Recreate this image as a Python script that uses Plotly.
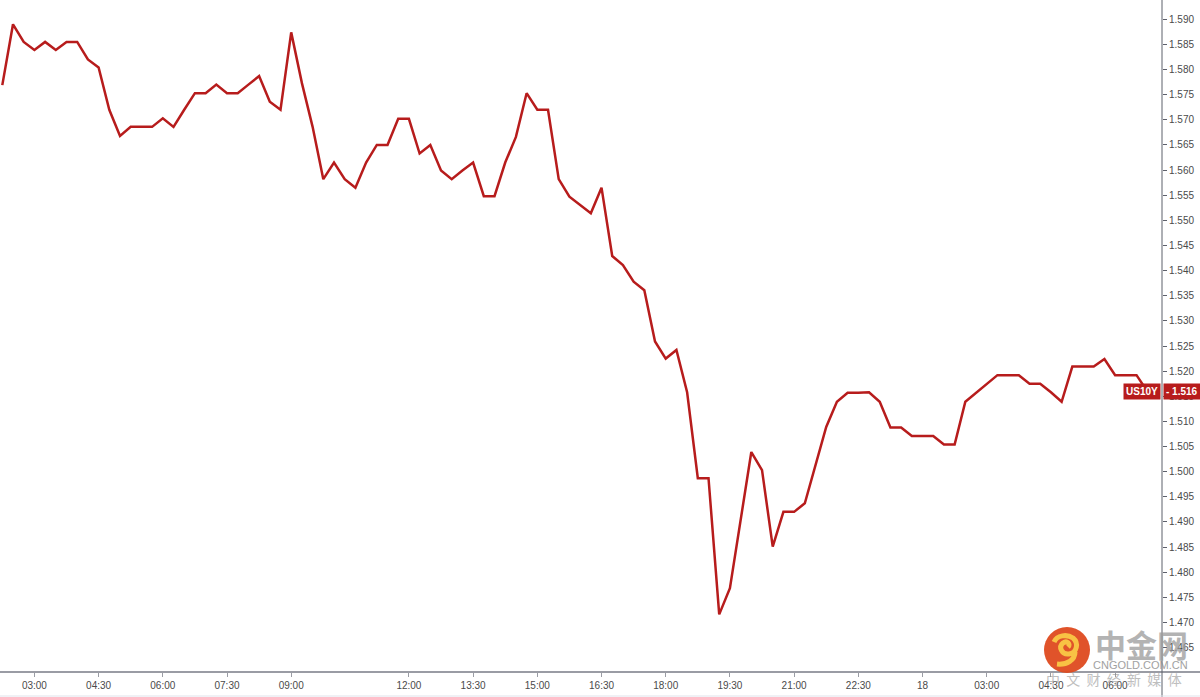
import pandas as pd
import plotly.graph_objects as go

# ---- data ----
series_name = "US10Y"
values = [1.5769, 1.5890, 1.5855, 1.5839, 1.5855, 1.5839, 1.5855, 1.5855, 1.5820, 1.5804,
          1.5720, 1.5668, 1.5686, 1.5686, 1.5686, 1.5703, 1.5686, 1.5720, 1.5753, 1.5753,
          1.5770, 1.5753, 1.5753, 1.5770, 1.5787, 1.5736, 1.5720, 1.5874, 1.5773, 1.5686,
          1.5582, 1.5615, 1.5582, 1.5565, 1.5615, 1.5650, 1.5650, 1.5702, 1.5702, 1.5633,
          1.5650, 1.5599, 1.5582, 1.5599, 1.5615, 1.5548, 1.5548, 1.5615, 1.5666, 1.5753,
          1.5720, 1.5720, 1.5582, 1.5547, 1.5531, 1.5514, 1.5565, 1.5429, 1.5411, 1.5378,
          1.5361, 1.5259, 1.5225, 1.5242, 1.5158, 1.4987, 1.4987, 1.4716, 1.4768, 1.4904,
          1.5039, 1.5003, 1.4851, 1.4920, 1.4920, 1.4937, 1.5013, 1.5089, 1.5139, 1.5157,
          1.5157, 1.5158, 1.5139, 1.5088, 1.5088, 1.5071, 1.5071, 1.5071, 1.5054, 1.5054,
          1.5139, 1.5157, 1.5175, 1.5192, 1.5192, 1.5192, 1.5175, 1.5175, 1.5158, 1.5139,
          1.5209, 1.5209, 1.5209, 1.5224, 1.5192, 1.5192, 1.5192, 1.5160]
last_label = "1.516"

# 15-minute bars (session gaps removed)
day1 = pd.date_range("2021-03-17 02:15", "2021-03-17 23:45", freq="15min").drop(
    pd.Timestamp("2021-03-17 10:30"))
day2 = pd.DatetimeIndex([pd.Timestamp("2021-03-18 00:00")]).append(
    pd.date_range("2021-03-18 01:45", "2021-03-18 06:45", freq="15min"))
times = [t.strftime("%m-%d %H:%M") for t in day1.append(day2)]

tick_times = ["03-17 03:00", "03-17 04:30", "03-17 06:00", "03-17 07:30", "03-17 09:00",
              "03-17 12:00", "03-17 13:30", "03-17 15:00", "03-17 16:30", "03-17 18:00",
              "03-17 19:30", "03-17 21:00", "03-17 22:30", "03-18 00:00", "03-18 03:00",
              "03-18 04:30", "03-18 06:00"]
tick_labels = ["03:00", "04:30", "06:00", "07:30", "09:00", "12:00", "13:30", "15:00",
               "16:30", "18:00", "19:30", "21:00", "22:30", "18", "03:00", "04:30", "06:00"]

y_ticks = [round(1.465 + 0.005 * i, 3) for i in range(26)]

# ---- style ----
RED = "#B71C1C"
W, H = 1200, 697
PL, PR, PT, PB = 0, 38, 0, 25
PW, PH = W - PL - PR, H - PT - PB

def px_x(x):
    return (x - PL) / PW

def px_y(y):
    return (H - PB - y) / PH

fig = go.Figure()
fig.add_trace(go.Scatter(x=times, y=values, mode="lines",
                         line=dict(color=RED, width=2.5), name=series_name,
                         hoverinfo="x+y"))

logo_cx, logo_cy = 1067, 650
shapes = [
    # bottom axis line (extends under price scale)
    dict(type="line", xref="paper", yref="paper", x0=0, x1=px_x(W), y0=0, y1=0,
         line=dict(color="#9a9ca4", width=2), layer="above"),
    # right price-scale line (extends through time scale)
    dict(type="line", xref="paper", yref="paper", x0=1, x1=1, y0=px_y(H), y1=1,
         line=dict(color="#5d606b", width=1), layer="above"),
    # bottom border
    dict(type="line", xref="paper", yref="paper", x0=0, x1=px_x(W), y0=px_y(H - 1), y1=px_y(H - 1),
         line=dict(color="#e0e3eb", width=1), layer="above"),
    # watermark logo circle
    dict(type="circle", xref="paper", yref="paper", x0=px_x(logo_cx - 23), x1=px_x(logo_cx + 23),
         y0=px_y(logo_cy + 23), y1=px_y(logo_cy - 23), fillcolor="#DE4A1F", line=dict(width=0),
         layer="above", opacity=0.95),
    # watermark logo swirl
    dict(type="path", xref="paper", yref="paper", xsizemode="pixel", ysizemode="pixel",
         xanchor=px_x(logo_cx), yanchor=px_y(logo_cy),
         path="M 1,3 C 4,6 0,10 -4,7 C -9,3 -5,-5 2,-4 C 10,-3 12,7 6,12 "
              "C 0,16 -10,15 -13,8 M 8,-2 C 8,-10 0,-15 -10,-14",
         line=dict(color="#F8C244", width=5), layer="above"),
]

annotations = [
    dict(text="<b>" + series_name + "</b>", xref="paper", yref="y", x=1, y=values[-1],
         xanchor="right", yanchor="middle", xshift=-1, showarrow=False,
         font=dict(color="white", size=10, family="Liberation Sans"),
         bgcolor=RED, borderpad=2),
    dict(text="<b>- " + last_label + "</b>", xref="paper", yref="y", x=1, y=values[-1],
         xanchor="left", yanchor="middle", xshift=1, showarrow=False,
         font=dict(color="white", size=10, family="Liberation Sans"),
         bgcolor=RED, borderpad=2),
    # watermark text
    dict(text="<b>中金网</b>", xref="paper", yref="paper", x=px_x(1141), y=px_y(643),
         xanchor="center", yanchor="middle", showarrow=False, opacity=0.75,
         font=dict(color="#9a9a9a", size=31, family="Noto Sans CJK SC")),
    dict(text="CNGOLD.COM.CN", xref="paper", yref="paper", x=px_x(1140), y=px_y(665),
         xanchor="center", yanchor="middle", showarrow=False, opacity=0.8,
         font=dict(color="#8a8a8a", size=11, family="Liberation Sans")),
    dict(text="中&nbsp; 文&nbsp; 财&nbsp; 经&nbsp; 新&nbsp; 媒&nbsp; 体", xref="paper", yref="paper",
         x=px_x(1114), y=px_y(679),
         xanchor="center", yanchor="middle", showarrow=False, opacity=0.55,
         font=dict(color="#8a8a8a", size=14, family="Noto Sans CJK SC")),
]

fig.update_layout(
    width=W, height=H, autosize=False,
    margin=dict(l=PL, r=PR, t=PT, b=PB, pad=0),
    paper_bgcolor="white", plot_bgcolor="white",
    showlegend=False,
    shapes=shapes, annotations=annotations,
    font=dict(family="Liberation Sans", size=10, color="#4a4a4a"),
    xaxis=dict(type="category", range=[-0.215, 108.38], showgrid=False, zeroline=False,
               showline=False, tickmode="array", tickvals=tick_times, ticktext=tick_labels,
               ticks="outside", ticklen=4, tickcolor="#9a9ca4", tickwidth=1,
               tickfont=dict(size=10, color="#4a4a4a")),
    yaxis=dict(side="right", range=[1.46014, 1.59384], showgrid=False, zeroline=False,
               showline=False, tickmode="array", tickvals=y_ticks,
               ticktext=[f"{v:.3f}" for v in y_ticks],
               ticks="outside", ticklen=4, tickcolor="#5d606b", tickwidth=1,
               tickfont=dict(size=10, color="#4a4a4a")),
)

fig.write_html("out.html", config={"displayModeBar": False},
               post_script="document.body.style.margin='0';document.body.style.overflow='hidden';")
